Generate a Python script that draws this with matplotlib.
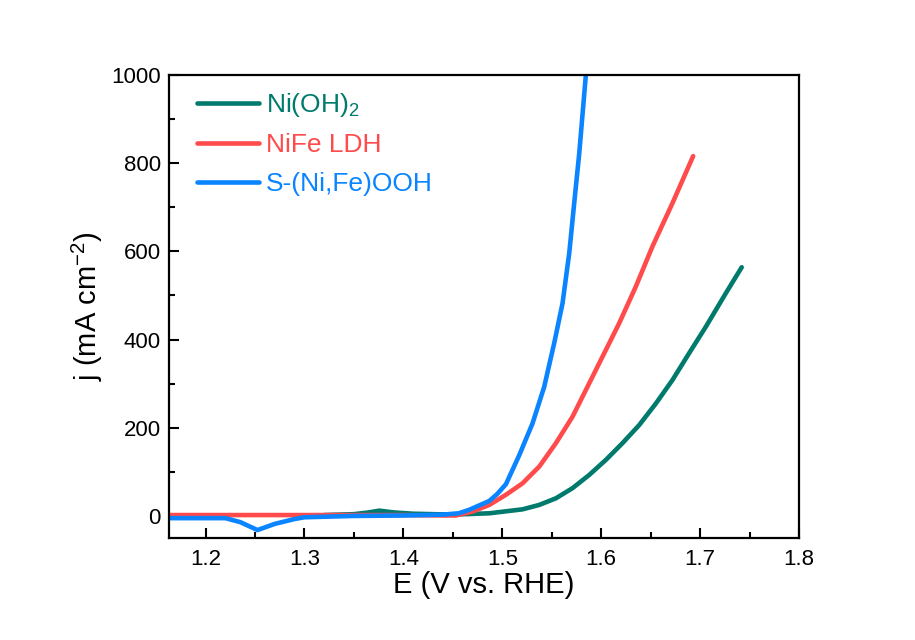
import matplotlib
matplotlib.use("Agg")
import matplotlib.pyplot as plt
from matplotlib.ticker import MultipleLocator

plt.rcParams['font.family'] = ['Liberation Sans', 'DejaVu Sans']
plt.rcParams['mathtext.fontset'] = 'custom'
plt.rcParams['mathtext.rm'] = 'Liberation Sans'
plt.rcParams['mathtext.it'] = 'Liberation Sans:italic'
plt.rcParams['mathtext.default'] = 'regular'

# Data
teal_E = [1.32, 1.35, 1.365, 1.3757, 1.39, 1.41, 1.45, 1.4869, 1.5205, 1.5374, 1.5542,
          1.571, 1.5879, 1.6047, 1.6215, 1.6384, 1.6553, 1.672, 1.6889, 1.7058, 1.726, 1.7421]
teal_j = [2, 4, 8, 12, 8, 5, 3, 6, 15, 25, 40, 63, 93, 127, 165, 206, 255, 308, 369, 429, 505, 564]

red_E = [1.163, 1.25, 1.30, 1.35, 1.40, 1.44, 1.453, 1.47, 1.4869, 1.5037, 1.5205, 1.5374,
         1.5542, 1.571, 1.5846, 1.6013, 1.6182, 1.635, 1.6518, 1.672, 1.693]
red_j = [2, 2, 2, 2, 2, 1, 1, 10, 25, 48, 74, 112, 165, 225, 286, 361, 437, 520, 611, 709, 816]

blue_E = [1.163, 1.22, 1.235, 1.2525, 1.27, 1.29, 1.30, 1.35, 1.40, 1.44, 1.456, 1.4667,
          1.4768, 1.4869, 1.495, 1.5037, 1.5172, 1.5306, 1.5424, 1.5525, 1.5609, 1.5677,
          1.5727, 1.5778, 1.5845]
blue_j = [-5, -5, -14, -32, -18, -7, -3, 0, 1, 3, 6, 14, 24, 34, 50, 72, 138, 210, 293, 392,
          482, 596, 709, 822, 1000]

labels = ['Ni(OH)$_2$', 'NiFe LDH', 'S-(Ni,Fe)OOH']
colors = ['#007A6C', '#FF4B4B', '#0A84FF']

fig = plt.figure(figsize=(9.15, 6.4), dpi=100)
ax = fig.add_axes([0.1847, 0.1594, 0.6885, 0.7234])

for E, j, c, lab in zip([teal_E, red_E, blue_E], [teal_j, red_j, blue_j], colors, labels):
    ax.plot(E, j, color=c, lw=3.3, label=lab, solid_capstyle='round', solid_joinstyle='round')

ax.set_xlim(1.163, 1.8)
ax.set_ylim(-50, 1000)
ax.xaxis.set_major_locator(MultipleLocator(0.1))
ax.xaxis.set_minor_locator(MultipleLocator(0.05))
ax.yaxis.set_major_locator(MultipleLocator(200))
ax.yaxis.set_minor_locator(MultipleLocator(100))
ax.tick_params(which='both', direction='in', width=1.5, labelsize=16, top=False, right=False)
ax.tick_params(which='major', length=7)
ax.tick_params(which='minor', length=4)
ax.tick_params(axis='x', pad=8)
ax.tick_params(axis='y', pad=6)
for s in ax.spines.values():
    s.set_linewidth(1.6)

ax.set_xlabel('E (V vs. RHE)', fontsize=21, labelpad=1)
ax.set_ylabel('j (mA cm$^{-2}$)', fontsize=21, labelpad=4)

ax.legend(loc='upper left', frameon=False, fontsize=19, handlelength=2.35,
          handletextpad=0.25, labelspacing=0.55, labelcolor='linecolor',
          bbox_to_anchor=(0.02, 1.0), borderaxespad=0.2)

fig.savefig('out.png', dpi=100)
